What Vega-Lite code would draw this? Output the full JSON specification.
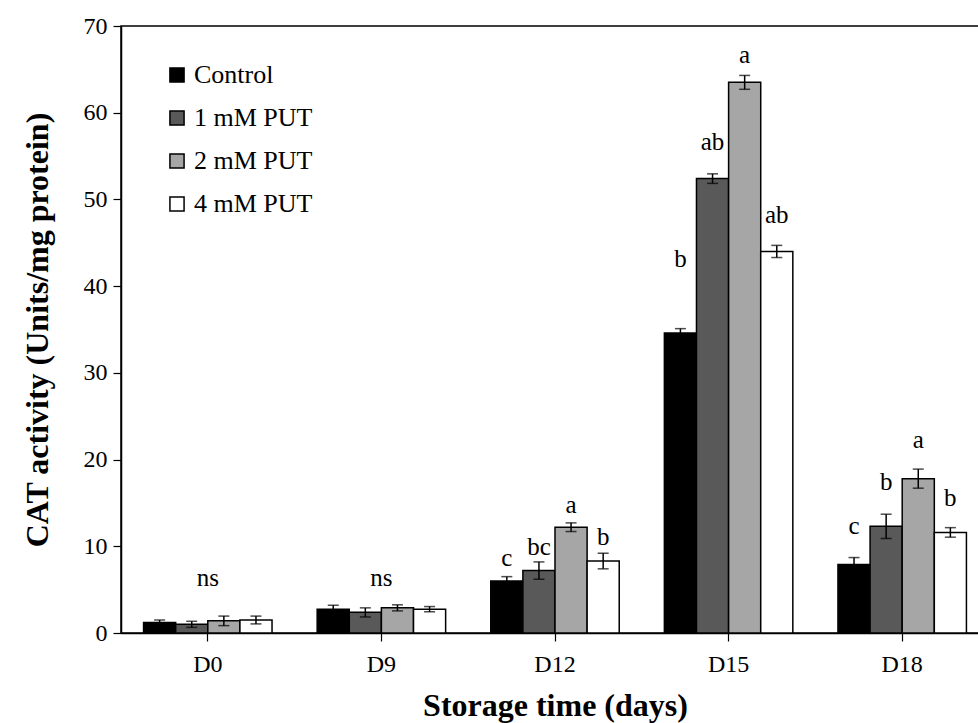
{
  "$schema": "https://vega.github.io/schema/vega-lite/v6.json",
  "width": 868,
  "height": 607,
  "autosize": {"type": "none"},
  "padding": {"left": 121, "top": 26, "right": 0, "bottom": 90},
  "background": "white",
  "config": {
    "font": "Liberation Serif",
    "text": {"font": "Liberation Serif"},
    "view": {"stroke": "black", "strokeWidth": 1.5},
    "axis": {"domainColor": "black", "domainWidth": 1.5, "tickColor": "black", "tickWidth": 1.2, "tickSize": 8, "grid": false, "labelColor": "black", "titleColor": "black", "labelFont": "Liberation Serif", "titleFont": "Liberation Serif", "labelFontSize": 24, "titleFontSize": 32, "titleFontWeight": "bold"},
    "legend": {"labelFont": "Liberation Serif", "labelFontSize": 26, "labelColor": "black"}
  },
  "datasets": {
    "bars": [
      {"day": "D0", "grp": "Control", "value": 1.2, "lo": 0.9, "hi": 1.5},
      {"day": "D0", "grp": "1 mM PUT", "value": 1.0, "lo": 0.65, "hi": 1.35},
      {"day": "D0", "grp": "2 mM PUT", "value": 1.4, "lo": 0.85, "hi": 1.95},
      {"day": "D0", "grp": "4 mM PUT", "value": 1.5, "lo": 1.05, "hi": 1.95},
      {"day": "D9", "grp": "Control", "value": 2.75, "lo": 2.3, "hi": 3.2},
      {"day": "D9", "grp": "1 mM PUT", "value": 2.4, "lo": 1.85, "hi": 2.9},
      {"day": "D9", "grp": "2 mM PUT", "value": 2.9, "lo": 2.55, "hi": 3.25},
      {"day": "D9", "grp": "4 mM PUT", "value": 2.75, "lo": 2.45, "hi": 3.05},
      {"day": "D12", "grp": "Control", "value": 6.0, "lo": 5.5, "hi": 6.5},
      {"day": "D12", "grp": "1 mM PUT", "value": 7.2, "lo": 6.2, "hi": 8.2},
      {"day": "D12", "grp": "2 mM PUT", "value": 12.2, "lo": 11.7, "hi": 12.7},
      {"day": "D12", "grp": "4 mM PUT", "value": 8.3, "lo": 7.4, "hi": 9.2},
      {"day": "D15", "grp": "Control", "value": 34.6, "lo": 34.1, "hi": 35.1},
      {"day": "D15", "grp": "1 mM PUT", "value": 52.4, "lo": 51.85, "hi": 52.95},
      {"day": "D15", "grp": "2 mM PUT", "value": 63.5, "lo": 62.7, "hi": 64.3},
      {"day": "D15", "grp": "4 mM PUT", "value": 44.0, "lo": 43.3, "hi": 44.7},
      {"day": "D18", "grp": "Control", "value": 7.9, "lo": 7.1, "hi": 8.7},
      {"day": "D18", "grp": "1 mM PUT", "value": 12.3, "lo": 10.9, "hi": 13.7},
      {"day": "D18", "grp": "2 mM PUT", "value": 17.8, "lo": 16.7, "hi": 18.9},
      {"day": "D18", "grp": "4 mM PUT", "value": 11.6, "lo": 11.05, "hi": 12.15}
    ],
    "letters": [
      {"day": "D12", "grp": "Control", "ly": 8.7, "txt": "c"},
      {"day": "D12", "grp": "1 mM PUT", "ly": 9.9, "txt": "bc"},
      {"day": "D12", "grp": "2 mM PUT", "ly": 14.8, "txt": "a"},
      {"day": "D12", "grp": "4 mM PUT", "ly": 11.1, "txt": "b"},
      {"day": "D15", "grp": "Control", "ly": 43.1, "txt": "b"},
      {"day": "D15", "grp": "1 mM PUT", "ly": 56.6, "txt": "ab"},
      {"day": "D15", "grp": "2 mM PUT", "ly": 66.7, "txt": "a"},
      {"day": "D15", "grp": "4 mM PUT", "ly": 48.2, "txt": "ab"},
      {"day": "D18", "grp": "Control", "ly": 12.3, "txt": "c"},
      {"day": "D18", "grp": "1 mM PUT", "ly": 17.4, "txt": "b"},
      {"day": "D18", "grp": "2 mM PUT", "ly": 22.3, "txt": "a"},
      {"day": "D18", "grp": "4 mM PUT", "ly": 15.6, "txt": "b"}
    ],
    "ns": [
      {"day": "D0", "ly": 6.4, "txt": "ns"},
      {"day": "D9", "ly": 6.4, "txt": "ns"}
    ]
  },
  "encoding": {
    "x": {
      "field": "day", "type": "nominal",
      "sort": ["D0", "D9", "D12", "D15", "D18"],
      "scale": {"domain": ["D0", "D9", "D12", "D15", "D18"], "paddingInner": 0.26, "paddingOuter": 0.13},
      "axis": {"title": "Storage time (days)", "labelAngle": 0, "labelPadding": 11, "titlePadding": 14}
    }
  },
  "layer": [
    {
      "data": {"name": "bars"},
      "mark": {"type": "bar", "stroke": "black", "strokeWidth": 1.5},
      "encoding": {
        "xOffset": {"field": "grp", "type": "nominal", "sort": ["Control", "1 mM PUT", "2 mM PUT", "4 mM PUT"], "scale": {"domain": ["Control", "1 mM PUT", "2 mM PUT", "4 mM PUT"], "paddingInner": 0, "paddingOuter": 0}},
        "y": {"field": "value", "type": "quantitative", "scale": {"domain": [0, 70], "nice": false}, "axis": {"title": "CAT activity (Units/mg protein)", "values": [0, 10, 20, 30, 40, 50, 60, 70], "labelPadding": 6, "titlePadding": 29}},
        "color": {
          "field": "grp", "type": "nominal",
          "scale": {"domain": ["Control", "1 mM PUT", "2 mM PUT", "4 mM PUT"], "range": ["#000000", "#595959", "#a6a6a6", "#ffffff"]},
          "legend": {"title": null, "orient": "none", "legendX": 43, "legendY": 36, "symbolType": "square", "symbolSize": 200, "symbolStrokeColor": "black", "symbolStrokeWidth": 1.5, "rowPadding": 17, "labelOffset": 4, "labelFont": "Liberation Serif"}
        }
      }
    },
    {
      "data": {"name": "bars"},
      "mark": {"type": "rule", "color": "black", "strokeWidth": 1.5},
      "encoding": {
        "xOffset": {"field": "grp", "type": "nominal", "sort": ["Control", "1 mM PUT", "2 mM PUT", "4 mM PUT"]},
        "y": {"field": "lo", "type": "quantitative"},
        "y2": {"field": "hi"}
      }
    },
    {
      "data": {"name": "bars"},
      "mark": {"type": "tick", "color": "black", "size": 11, "thickness": 1.5, "orient": "horizontal"},
      "encoding": {
        "xOffset": {"field": "grp", "type": "nominal", "sort": ["Control", "1 mM PUT", "2 mM PUT", "4 mM PUT"]},
        "y": {"field": "hi", "type": "quantitative"}
      }
    },
    {
      "data": {"name": "bars"},
      "mark": {"type": "tick", "color": "black", "size": 11, "thickness": 1.5, "orient": "horizontal"},
      "encoding": {
        "xOffset": {"field": "grp", "type": "nominal", "sort": ["Control", "1 mM PUT", "2 mM PUT", "4 mM PUT"]},
        "y": {"field": "lo", "type": "quantitative"}
      }
    },
    {
      "data": {"name": "letters"},
      "mark": {"type": "text", "font": "Liberation Serif", "fontSize": 25, "baseline": "middle", "align": "center", "color": "black"},
      "encoding": {
        "xOffset": {"field": "grp", "type": "nominal", "sort": ["Control", "1 mM PUT", "2 mM PUT", "4 mM PUT"]},
        "y": {"field": "ly", "type": "quantitative"},
        "text": {"field": "txt"}
      }
    },
    {
      "data": {"name": "ns"},
      "mark": {"type": "text", "font": "Liberation Serif", "fontSize": 25, "baseline": "middle", "align": "center", "color": "black"},
      "encoding": {
        "y": {"field": "ly", "type": "quantitative"},
        "text": {"field": "txt"}
      }
    }
  ]
}
